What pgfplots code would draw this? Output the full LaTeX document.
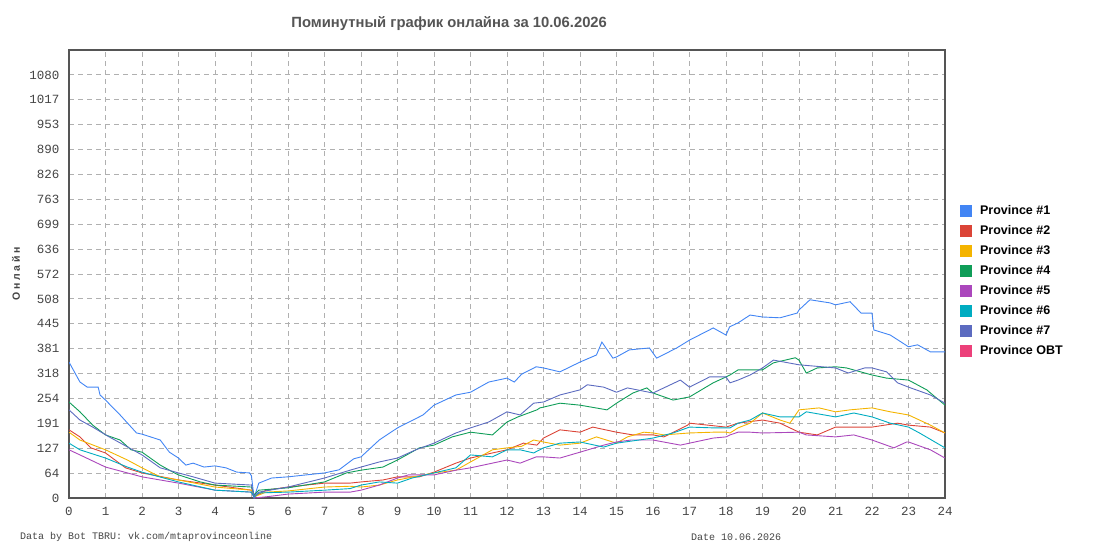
\documentclass[border=0pt]{standalone}
\usepackage{fontspec}
\setmainfont{Liberation Sans}
\newfontfamily\tickfont{Liberation Mono}
\newfontfamily\ylabfont[LetterSpace=25.0]{Liberation Sans}
\usepackage{pgfplots}
\pgfplotsset{compat=1.18}
\definecolor{cA}{HTML}{4285F4}
\definecolor{cB}{HTML}{DB4437}
\definecolor{cC}{HTML}{F4B400}
\definecolor{cD}{HTML}{0F9D58}
\definecolor{cE}{HTML}{AB47BC}
\definecolor{cF}{HTML}{00ACC1}
\definecolor{cG}{HTML}{5C6BC0}
\definecolor{cH}{HTML}{EC407A}
\definecolor{axisgray}{HTML}{555555}
\definecolor{gridgray}{HTML}{B0B0B0}
\definecolor{txtgray}{HTML}{444444}
\begin{document}
\begin{tikzpicture}
\path[use as bounding box] (0,0) rectangle (1095pt,550pt);
\begin{axis}[
  at={(69pt,52pt)}, anchor=south west,
  scale only axis, width=876pt, height=448pt,
  xmin=0, xmax=24, ymin=0, ymax=1143.53,
  xtick={0,1,...,24},
  ytick={0,63.529,127.059,190.588,254.118,317.647,381.176,444.706,508.235,571.765,635.294,698.824,762.353,825.882,889.412,952.941,1016.471,1080},
  yticklabels={0,64,127,191,254,318,381,445,508,572,636,699,763,826,890,953,1017,1080},
  /pgf/number format/assume math mode=true,
  major tick length=0pt,
  tick style={draw=none},
  grid=major,
  major grid style={color=gridgray, line width=0.8pt, dash pattern=on 5pt off 4pt},
  axis line style={draw=axisgray, line width=1.5pt},
  ticklabel style={font=\tickfont\fontsize{12.5}{14}\selectfont, text=txtgray},
  yticklabel style={xshift=-6pt},
  xticklabel style={yshift=-6pt},
  every axis y label/.style={at={(axis description cs:-0.0605,0.5)}, anchor=center, rotate=90, font=\ylabfont\bfseries\fontsize{10.5}{13}\selectfont, text=txtgray},
  ylabel={Онлайн},
  title={Поминутный график онлайна за 10.06.2026},
  title style={at={(axis description cs:0.434,1.045)}, anchor=center, font=\bfseries\fontsize{14.8}{17}\selectfont, text=axisgray},
  legend style={at={(axis description cs:1.0,0.485)}, anchor=west, xshift=12pt, draw=none, fill=none, row sep=5pt, font=\bfseries\fontsize{12.5}{14}\selectfont, nodes={inner sep=2pt, text height=9pt, text depth=2pt}},
  legend cell align=left,
  legend image code/.code={\fill (0pt,-5.5pt) rectangle (11pt,5.5pt); \path (17pt,0pt);},
  every axis plot/.append style={line width=0.9pt},
]
\addplot[color=cA] coordinates {(0,347)(0.3,296)(0.5,283)(0.8,283)(0.85,263)(1.0,250)(1.4,212)(1.85,166)(2.0,163)(2.5,148)(2.75,117)(3.0,102)(3.2,84)(3.4,89)(3.7,79)(4.0,82)(4.3,77)(4.6,66)(4.95,64)(5.0,56)(5.07,0)(5.2,38)(5.55,51)(6.0,54)(7.0,64)(7.4,72)(7.8,100)(8.0,105)(8.5,148)(9.0,179)(9.7,212)(10.0,237)(10.6,263)(11.0,270)(11.5,296)(12.0,306)(12.2,296)(12.4,316)(12.8,335)(13.0,332)(13.45,322)(14.0,347)(14.45,365)(14.6,398)(14.9,357)(15.0,360)(15.35,378)(15.9,383)(16.1,357)(16.65,383)(17.0,403)(17.65,434)(18.0,416)(18.1,437)(18.33,447)(18.66,467)(19.0,462)(19.48,460)(19.95,472)(20.0,480)(20.3,506)(20.85,498)(21.0,493)(21.4,501)(21.7,472)(22.0,472)(22.05,429)(22.5,416)(23.0,386)(23.25,391)(23.6,373)(24.0,373)};
\addlegendentry{Province \#1}
\addplot[color=cB] coordinates {(0,174)(0.3,156)(0.6,128)(1.0,115)(1.55,77)(2.0,64)(3.0,46)(4.0,33)(5.0,20)(5.07,3)(5.4,20)(6.0,28)(7.0,38)(7.7,38)(8.0,41)(8.6,46)(9.0,54)(9.6,54)(10.0,66)(10.6,89)(11.0,102)(11.6,115)(12.0,123)(12.45,140)(12.82,135)(13.0,153)(13.45,174)(14.0,168)(14.35,181)(15.0,168)(15.45,161)(16.0,161)(16.3,156)(16.95,186)(17.0,191)(18.0,181)(18.33,191)(19.0,199)(19.48,191)(20.0,168)(20.5,161)(21.0,181)(22.0,181)(22.7,191)(23.0,186)(23.6,181)(24.0,166)};
\addlegendentry{Province \#2}
\addplot[color=cC] coordinates {(0,168)(0.3,148)(1.0,123)(1.6,97)(2.0,77)(2.5,54)(3.0,46)(4.0,28)(5.0,20)(5.07,3)(5.4,15)(6.0,18)(7.0,28)(7.7,30)(8.0,28)(8.5,33)(9.0,46)(10.0,64)(10.6,71)(11.0,92)(11.6,123)(12.0,128)(12.4,132)(12.73,148)(13.0,143)(13.45,135)(14.0,140)(14.45,156)(15.0,140)(15.3,156)(15.75,168)(16.0,166)(16.3,161)(17.0,166)(17.65,168)(18.0,168)(18.11,166)(18.33,179)(18.66,191)(19.0,217)(19.48,199)(19.75,191)(20.0,225)(20.55,230)(21.0,220)(21.4,225)(22.0,230)(22.5,220)(23.0,212)(23.6,186)(24.0,166)};
\addlegendentry{Province \#3}
\addplot[color=cD] coordinates {(0,245)(0.3,220)(0.65,186)(1.0,161)(1.4,148)(1.7,123)(2.0,117)(2.5,84)(2.85,66)(3.0,59)(3.6,41)(4.0,33)(5.0,28)(5.07,8)(5.2,20)(6.0,26)(7.0,41)(7.6,64)(8.0,71)(8.6,79)(9.0,97)(9.6,128)(10.0,135)(10.5,156)(11.0,168)(11.6,161)(12.0,194)(12.3,207)(12.82,225)(12.9,230)(13.0,232)(13.45,242)(14.0,237)(14.74,225)(15.0,242)(15.45,268)(15.83,281)(16.0,268)(16.55,250)(17.0,258)(17.65,294)(18.0,309)(18.11,314)(18.33,327)(19.0,327)(19.3,345)(19.9,358)(20.0,352)(20.2,319)(20.5,332)(21.0,335)(21.3,332)(22.0,314)(22.4,306)(23.0,301)(23.5,276)(24.0,237)};
\addlegendentry{Province \#4}
\addplot[color=cE] coordinates {(0,123)(0.3,110)(1.0,79)(1.6,64)(2.0,54)(3.0,38)(4.0,20)(5.0,15)(5.07,0)(5.4,3)(6.0,10)(7.0,15)(7.7,15)(8.0,20)(8.5,33)(9.0,51)(9.3,59)(10.0,59)(10.6,71)(11.0,77)(11.6,89)(12.0,97)(12.36,89)(12.8,105)(13.0,105)(13.45,102)(14.0,117)(14.65,135)(15.0,143)(15.4,148)(16.0,148)(16.75,135)(17.0,140)(17.65,153)(18.0,156)(18.11,161)(18.33,168)(18.66,168)(19.0,166)(20.0,168)(20.2,161)(21.0,156)(21.5,161)(22.0,148)(22.6,128)(22.95,143)(23.0,143)(23.6,123)(24.0,102)};
\addlegendentry{Province \#5}
\addplot[color=cF] coordinates {(0,140)(0.3,123)(1.0,102)(1.6,79)(2.0,66)(3.0,41)(4.0,20)(5.0,15)(5.07,2)(5.2,13)(6.0,15)(7.0,20)(7.7,24)(8.0,33)(8.5,41)(9.0,38)(9.4,51)(10.0,64)(10.6,77)(11.0,110)(11.6,105)(12.0,123)(12.36,123)(12.73,115)(13.0,128)(13.45,140)(14.0,143)(14.65,130)(15.0,140)(16.0,153)(16.55,166)(17.0,181)(17.65,179)(18.0,179)(18.11,179)(18.33,191)(18.66,199)(19.0,217)(19.48,207)(20.0,207)(20.2,220)(21.0,207)(21.5,217)(22.0,207)(22.5,191)(23.0,181)(23.3,166)(24.0,128)};
\addlegendentry{Province \#6}
\addplot[color=cG] coordinates {(0,225)(0.3,199)(0.65,181)(1.1,156)(2.0,110)(2.5,77)(3.0,64)(3.4,54)(4.0,38)(5.0,33)(5.07,5)(5.2,15)(6.0,28)(7.0,51)(7.7,71)(8.0,79)(8.5,92)(9.0,102)(9.5,123)(10.0,140)(10.6,166)(11.0,179)(11.5,194)(12.0,220)(12.36,212)(12.73,242)(13.0,245)(13.45,263)(14.0,276)(14.2,289)(14.65,283)(15.0,270)(15.3,281)(16.0,268)(16.75,301)(17.0,283)(17.55,309)(18.0,309)(18.11,294)(18.33,301)(18.66,314)(19.0,332)(19.3,352)(20.0,340)(21.0,332)(21.35,319)(21.8,332)(22.0,332)(22.4,322)(22.7,294)(23.0,283)(23.6,263)(24.0,242)};
\addlegendentry{Province \#7}
\addlegendimage{color=cH}
\addlegendentry{Province OBT}
\end{axis}
\node[anchor=west, font=\tickfont\fontsize{10}{12}\selectfont, text=txtgray, inner sep=0pt] at (20pt,13pt) {Data by Bot TBRU: vk.com/mtaprovinceonline};
\node[anchor=west, font=\tickfont\fontsize{10}{12}\selectfont, text=txtgray, inner sep=0pt] at (691pt,13pt) {Date 10.06.2026};
\end{tikzpicture}
\end{document}
